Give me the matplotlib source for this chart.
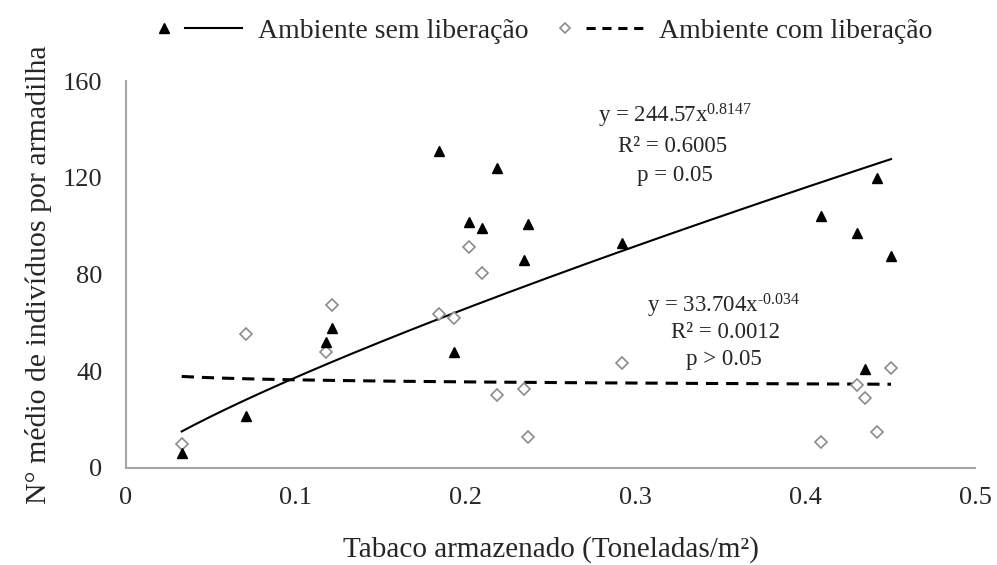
import numpy as np
import matplotlib
matplotlib.use('Agg')
import matplotlib.pyplot as plt
from matplotlib.lines import Line2D
from matplotlib.legend_handler import HandlerBase

plt.rcParams['font.family'] = ['Liberation Serif', 'DejaVu Serif']
plt.rcParams['mathtext.fontset'] = 'custom'
plt.rcParams['mathtext.rm'] = 'Liberation Serif'
plt.rcParams['mathtext.default'] = 'regular'

#########  Data
tabaco = [0.0328, 0.0707, 0.1176, 0.1211, 0.1843, 0.1933, 0.2022, 0.2095, 0.2182,
          0.2346, 0.2365, 0.2923, 0.4093, 0.4307, 0.4352, 0.4425, 0.4505]
sem_lib = [6.3, 21.5, 52.1, 57.9, 131.2, 47.8, 101.8, 99.3, 124.1,
           86.0, 100.7, 92.9, 104.3, 97.0, 40.9, 119.8, 87.6]
com_lib = [9.9, 55.4, 48.1, 67.4, 63.5, 61.9, 91.5, 80.7, 30.2,
           32.8, 12.9, 43.5, 10.9, 34.3, 28.8, 15.0, 41.2]

# power trendlines y = a x^b as printed on the chart
fit_sem = (244.57, 0.8147)
fit_com = (33.704, -0.034)

x_ticks = [0, 0.1, 0.2, 0.3, 0.4, 0.5]
x_tick_labels = ['0', '0.1', '0.2', '0.3', '0.4', '0.5']
y_ticks = [0, 40, 80, 120, 160]


# legend entry: marker on the left, trend line to its right
class MarkerThenLine(HandlerBase):
    def create_artists(self, legend, orig_handle, xdescent, ydescent, width, height, fontsize, trans):
        mk, ln = orig_handle
        y = height / 2 - ydescent
        m = Line2D([-xdescent + 0.1 * width], [y])
        m.update_from(mk)
        m.set_linestyle('none')
        l = Line2D([-xdescent + 0.34 * width, -xdescent + width], [y, y])
        l.update_from(ln)
        l.set_marker('')
        m.set_transform(trans)
        l.set_transform(trans)
        return [m, l]


#########  Figure
fig = plt.figure(figsize=(9.97, 5.65), dpi=100)
ax = fig.add_axes([0.1264, 0.1717, 0.8516, 0.6849])

xf = np.linspace(min(tabaco), max(tabaco), 300)

ax.plot(tabaco, com_lib, linestyle='none', marker='D', markersize=6.5,
        markerfacecolor='white', markeredgecolor='#8c8c8c', markeredgewidth=1.2, zorder=3)
ax.plot(tabaco, sem_lib, linestyle='none', marker='^', markersize=7.5,
        color='black', zorder=4)
ax.plot(xf, fit_sem[0] * xf ** fit_sem[1], color='black', lw=1.5, zorder=2)
ax.plot(xf, fit_com[0] * xf ** fit_com[1], color='black', lw=2.2,
        dashes=(4, 2.6), zorder=2)

ax.set_xlim(0, 0.5)
ax.set_ylim(0, 160)
ax.set_xticks(x_ticks, x_tick_labels)
ax.set_yticks(y_ticks)
ax.tick_params(length=0, labelsize=19, colors='#262626')
ax.tick_params(axis='y', pad=17)
ax.tick_params(axis='x', pad=14)

for s in ['top', 'right']:
    ax.spines[s].set_visible(False)
for s in ['left', 'bottom']:
    ax.spines[s].set_color('#a6a6a6')
    ax.spines[s].set_linewidth(1.5)

ax.set_xlabel('Tabaco armazenado (Toneladas/m²)', fontsize=21, color='#262626', labelpad=19)
ax.set_ylabel('N° médio de indivíduos por armadilha', fontsize=21.5, color='#262626', labelpad=8)

#########  Equations
tx = dict(ha='center', va='center', fontsize=16.5, color='#262626', transform=fig.transFigure)
fig.text(675 / 997, 1 - 116 / 565, r'y = 244.57x$^{0.8147}$', **tx)
fig.text(673 / 997, 1 - 146 / 565, 'R² = 0.6005', **tx)
fig.text(675 / 997, 1 - 175 / 565, 'p = 0.05', **tx)
fig.text(724 / 997, 1 - 306 / 565, 'y = 33.704x$^{\u20100.034}$', **tx)
fig.text(725 / 997, 1 - 333 / 565, 'R² = 0.0012', **tx)
fig.text(724 / 997, 1 - 360 / 565, 'p > 0.05', **tx)

#########  Legend
tri = Line2D([], [], linestyle='none', marker='^', markersize=6.5, color='black')
dia = Line2D([], [], linestyle='none', marker='D', markersize=5.5,
             markerfacecolor='white', markeredgecolor='#8c8c8c', markeredgewidth=1.2)
sol = Line2D([], [], color='black', lw=1.5)
das = Line2D([], [], color='black', lw=2.2, dashes=(3, 2.2))
fig.legend([(tri, sol), (dia, das)],
           ['Ambiente sem liberação', 'Ambiente com liberação'],
           handler_map={tuple: MarkerThenLine()},
           loc='center', bbox_to_anchor=(544 / 997, 1 - 31 / 565), ncol=2,
           frameon=False, fontsize=20, handlelength=3.1, handletextpad=0.6,
           columnspacing=1.0, labelcolor='#262626')

fig.savefig('out.png', dpi=100)
